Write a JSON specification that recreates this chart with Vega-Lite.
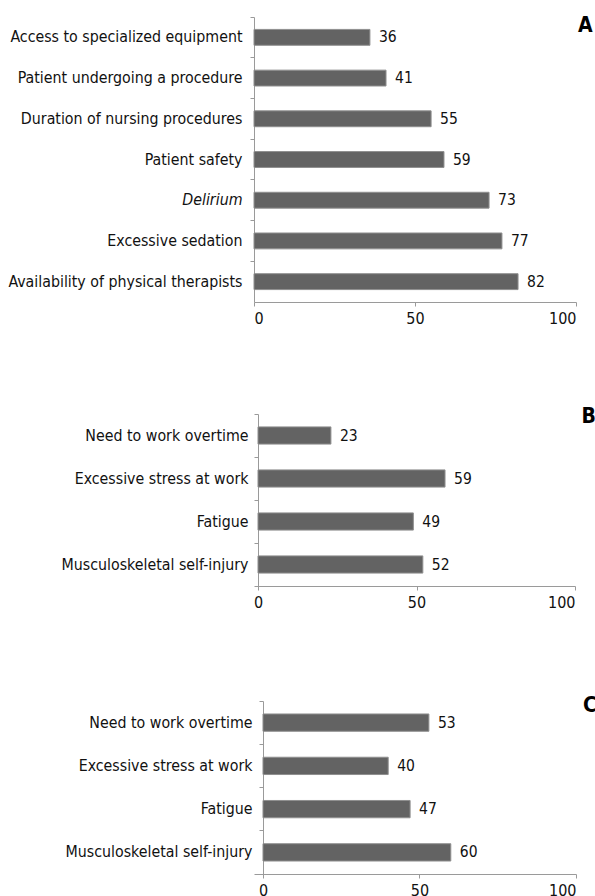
{
  "$schema": "https://vega.github.io/schema/vega-lite/v6.json",
  "background": "white",
  "padding": {"left": 0, "top": 14, "right": 0, "bottom": 0},
  "spacing": 73,
  "config": {
    "font": "DejaVu Sans Condensed, Liberation Sans Narrow, sans-serif",
    "view": {"stroke": null},
    "axis": {
      "grid": false,
      "domainColor": "#9a9a9a",
      "tickColor": "#9a9a9a",
      "tickSize": 4,
      "labelColor": "#111111",
      "labelFontSize": 16,
      "labelLimit": 400,
      "title": null
    },
    "axisX": {"labelPadding": 4},
    "axisY": {"labelPadding": 8, "bandPosition": 0, "labelFontSize": 15.8},
    "bar": {"fill": "#636363", "stroke": "#8f8f8f", "strokeWidth": 1},
    "text": {"fontSize": 15.5, "color": "#111111"}
  },
  "datasets": {
    "a": [
      {"panel": "A", "label": "Access to specialized equipment", "value": 36},
      {"panel": "A", "label": "Patient undergoing a procedure", "value": 41},
      {"panel": "A", "label": "Duration of nursing procedures", "value": 55},
      {"panel": "A", "label": "Patient safety", "value": 59},
      {"panel": "A", "label": "Delirium", "value": 73},
      {"panel": "A", "label": "Excessive sedation", "value": 77},
      {"panel": "A", "label": "Availability of physical therapists", "value": 82}
    ],
    "b": [
      {"panel": "B", "label": "Need to work overtime", "value": 23},
      {"panel": "B", "label": "Excessive stress at work", "value": 59},
      {"panel": "B", "label": "Fatigue", "value": 49},
      {"panel": "B", "label": "Musculoskeletal self-injury", "value": 52}
    ],
    "c": [
      {"panel": "C", "label": "Need to work overtime", "value": 53},
      {"panel": "C", "label": "Excessive stress at work", "value": 40},
      {"panel": "C", "label": "Fatigue", "value": 47},
      {"panel": "C", "label": "Musculoskeletal self-injury", "value": 60}
    ]
  },
  "vconcat": [
    {
      "width": 322,
      "height": 285,
      "data": {"name": "a"},
      "encoding": {
        "y": {
          "field": "label", "type": "nominal", "sort": null,
          "scale": {"paddingInner": 0, "paddingOuter": 0},
          "axis": {
            "minExtent": 254, "maxExtent": 254,
            "labelFontStyle": {"condition": {"test": "datum.value === 'Delirium'", "value": "italic"}, "value": "normal"}
          }
        }
      },
      "layer": [
        {
          "mark": {"type": "bar", "height": {"band": 0.39}},
          "encoding": {
            "x": {"field": "value", "type": "quantitative", "scale": {"domain": [0, 100], "nice": false, "zero": false},
                  "axis": {"values": [0, 50, 100], "minExtent": 30, "maxExtent": 30}}
          }
        },
        {
          "mark": {"type": "text", "align": "left", "baseline": "middle", "dx": 9},
          "encoding": {"x": {"field": "value", "type": "quantitative"}, "text": {"field": "value"}}
        },
        {
          "transform": [{"filter": "datum.label === 'Access to specialized equipment'"}],
          "mark": {"type": "text", "align": "left", "baseline": "middle", "dx": 2, "dy": -11.7, "fontSize": 21, "fontWeight": "bold", "color": "black"},
          "encoding": {"x": {"datum": 100, "type": "quantitative"}, "text": {"field": "panel"}}
        }
      ]
    },
    {
      "width": 321,
      "height": 172,
      "data": {"name": "b"},
      "encoding": {
        "y": {
          "field": "label", "type": "nominal", "sort": null,
          "scale": {"paddingInner": 0, "paddingOuter": 0},
          "axis": {"offset": -4, "labelPadding": 6}
        }
      },
      "layer": [
        {
          "mark": {"type": "bar", "height": {"band": 0.4}},
          "encoding": {
            "x": {"field": "value", "type": "quantitative", "scale": {"domain": [-1.262, 100], "nice": false, "zero": false},
                  "axis": {"values": [0, 50, 100], "minExtent": 35.5, "maxExtent": 35.5}}
          }
        },
        {
          "mark": {"type": "text", "align": "left", "baseline": "middle", "dx": 9},
          "encoding": {"x": {"field": "value", "type": "quantitative"}, "text": {"field": "value"}}
        },
        {
          "transform": [{"filter": "datum.label === 'Need to work overtime'"}],
          "mark": {"type": "text", "align": "left", "baseline": "middle", "dx": 6.5, "dy": -19, "fontSize": 21, "fontWeight": "bold", "color": "black"},
          "encoding": {"x": {"datum": 100, "type": "quantitative"}, "text": {"field": "panel"}}
        }
      ]
    },
    {
      "width": 322,
      "height": 173,
      "data": {"name": "c"},
      "encoding": {
        "y": {
          "field": "label", "type": "nominal", "sort": null,
          "scale": {"paddingInner": 0, "paddingOuter": 0},
          "axis": {"offset": -9, "labelPadding": 7}
        }
      },
      "layer": [
        {
          "mark": {"type": "bar", "height": {"band": 0.4}},
          "encoding": {
            "x": {"field": "value", "type": "quantitative", "scale": {"domain": [-2.875, 100], "nice": false, "zero": false},
                  "axis": {"values": [0, 50, 100], "minExtent": 30, "maxExtent": 30}}
          }
        },
        {
          "mark": {"type": "text", "align": "left", "baseline": "middle", "dx": 9},
          "encoding": {"x": {"field": "value", "type": "quantitative"}, "text": {"field": "value"}}
        },
        {
          "transform": [{"filter": "datum.label === 'Need to work overtime'"}],
          "mark": {"type": "text", "align": "left", "baseline": "middle", "dx": 7, "dy": -16.5, "fontSize": 21, "fontWeight": "bold", "color": "black"},
          "encoding": {"x": {"datum": 100, "type": "quantitative"}, "text": {"field": "panel"}}
        }
      ]
    }
  ]
}
